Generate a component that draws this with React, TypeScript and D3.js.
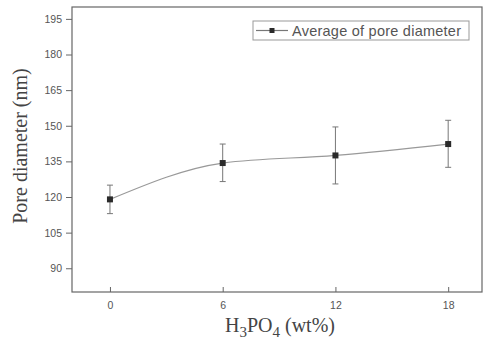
import { useRef, useEffect } from 'react';
import * as d3 from 'd3';

const conc = [0, 6, 12, 18];
const avg = [119, 134.3, 137.5, 142.3];
const errHi = [125, 142.3, 149.5, 152.3];
const errLo = [113, 126.5, 125.5, 132.5];
const yTicks = [90, 105, 120, 135, 150, 165, 180, 195];
const xTicks = [0, 6, 12, 18];

export default function App() {
  const ref = useRef<SVGSVGElement>(null);

  useEffect(() => {
    const w = 483, h = 345;
    const svg = d3.select(ref.current)
      .attr('width', w).attr('height', h);
    svg.selectAll('*').remove();
    svg.append('rect').attr('width', w).attr('height', h).attr('fill', '#fff');

    const x = d3.scaleLinear().domain([-2.02, 19.8]).range([72, 482]);
    const y = d3.scaleLinear().domain([80, 200]).range([292, 7]);

    const data = conc.map((c, i) => ({ c, v: avg[i], hi: errHi[i], lo: errLo[i] }));

    // frame
    svg.append('rect')
      .attr('x', 72).attr('y', 7)
      .attr('width', 410).attr('height', 285)
      .attr('fill', 'none').attr('stroke', '#666').attr('stroke-width', 1.2);

    // y axis
    const gy = svg.append('g').attr('transform', 'translate(72,0)')
      .call(d3.axisLeft(y).tickValues(yTicks).tickSize(6).tickPadding(4));
    gy.select('.domain').remove();
    gy.selectAll('line').attr('stroke', '#666');
    gy.selectAll('text').attr('fill', '#555')
      .style('font', '10.5px Arial, "Liberation Sans", sans-serif');

    // x axis (inward ticks)
    const gx = svg.append('g').attr('transform', 'translate(0,292)')
      .call(d3.axisBottom(x).tickValues(xTicks).tickSize(-5).tickPadding(10));
    gx.select('.domain').remove();
    gx.selectAll('line').attr('stroke', '#666');
    gx.selectAll('text').attr('fill', '#555')
      .style('font', '10.5px Arial, "Liberation Sans", sans-serif');

    // curve
    svg.append('path').datum(data)
      .attr('fill', 'none').attr('stroke', '#999').attr('stroke-width', 1.2)
      .attr('d', d3.line<any>().x(d => x(d.c)).y(d => y(d.v)).curve(d3.curveMonotoneX));

    // error bars
    const eb = svg.append('g').attr('stroke', '#777').attr('stroke-width', 1);
    data.forEach(d => {
      eb.append('line').attr('x1', x(d.c)).attr('x2', x(d.c)).attr('y1', y(d.hi)).attr('y2', y(d.lo));
      eb.append('line').attr('x1', x(d.c) - 3).attr('x2', x(d.c) + 3).attr('y1', y(d.hi)).attr('y2', y(d.hi));
      eb.append('line').attr('x1', x(d.c) - 3).attr('x2', x(d.c) + 3).attr('y1', y(d.lo)).attr('y2', y(d.lo));
    });

    // markers
    svg.selectAll('rect.pt').data(data).join('rect').attr('class', 'pt')
      .attr('x', d => x(d.c) - 3).attr('y', d => y(d.v) - 3)
      .attr('width', 6).attr('height', 6).attr('fill', '#2a2a2a');

    // legend
    const lg = svg.append('g');
    lg.append('rect').attr('x', 253).attr('y', 21).attr('width', 216).attr('height', 19)
      .attr('fill', '#fff').attr('stroke', '#999');
    lg.append('line').attr('x1', 256).attr('x2', 288).attr('y1', 30.5).attr('y2', 30.5)
      .attr('stroke', '#777').attr('stroke-width', 1.2);
    lg.append('rect').attr('x', 269.5).attr('y', 28).attr('width', 5).attr('height', 5).attr('fill', '#2a2a2a');
    lg.append('text').attr('x', 292).attr('y', 36)
      .attr('fill', '#555')
      .attr('textLength', 169)
      .style('font', '14.5px Arial, "Liberation Sans", sans-serif')
      .text('Average of pore diameter');

    // axis titles
    svg.append('text')
      .attr('transform', 'translate(27,146) rotate(-90)')
      .attr('text-anchor', 'middle').attr('fill', '#444')
      .style('font', '20px "Liberation Serif", "Times New Roman", serif')
      .text('Pore diameter (nm)');

    const xt = svg.append('text')
      .attr('x', 280).attr('y', 332)
      .attr('text-anchor', 'middle').attr('fill', '#444')
      .style('font', '20px "Liberation Serif", "Times New Roman", serif');
    xt.append('tspan').text('H');
    xt.append('tspan').attr('dy', 5).attr('font-size', 15).text('3');
    xt.append('tspan').attr('dy', -5).text('PO');
    xt.append('tspan').attr('dy', 5).attr('font-size', 15).text('4');
    xt.append('tspan').attr('dy', -5).text(' (wt%)');
  }, []);

  return <svg ref={ref} style={{ position: 'absolute', left: 0, top: 0 }}></svg>;
}
